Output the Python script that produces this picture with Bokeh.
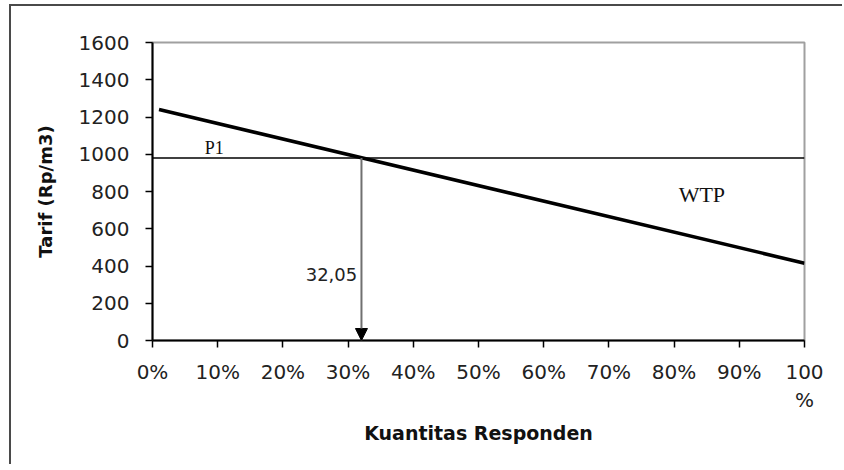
from bokeh.plotting import figure
from bokeh.models import Arrow, NormalHead, Label, FixedTicker, Range1d
from bokeh.embed import file_html
from bokeh.resources import INLINE

# ---- data ----
wtp_x = [1, 100]          # % of respondents
wtp_y = [1240, 415]       # tariff (Rp/m3)
p1_x = [0, 100]
p1_y = [980, 980]
q_at_p1 = 32.05
x_ticks = [0, 10, 20, 30, 40, 50, 60, 70, 80, 90, 100]
x_tick_labels = ["0%", "10%", "20%", "30%", "40%", "50%", "60%", "70%", "80%", "90%", "100\n%"]
y_ticks = [0, 200, 400, 600, 800, 1000, 1200, 1400, 1600]

p = figure(width=833, height=460, output_backend="svg", toolbar_location=None,
           x_range=Range1d(0, 100), y_range=Range1d(0, 1600),
           min_border_left=141, min_border_right=40, min_border_top=36, min_border_bottom=126)
p.styles = {"border-top": "2px solid #4a4a4a", "border-left": "2px solid #4a4a4a",
            "border-right": "0px none white", "border-bottom": "0px none white",
            "margin-left": "9px", "margin-top": "4px"}

p.grid.visible = False
p.outline_line_color = "#a0a0a0"
p.outline_line_width = 2
p.background_fill_color = "white"
p.border_fill_color = "white"

tick_font = "DejaVu Sans"
for ax in (p.xaxis[0], p.yaxis[0]):
    ax.axis_line_color = "black"
    ax.axis_line_width = 2
    ax.major_tick_line_color = "black"
    ax.major_tick_line_width = 1.5
    ax.major_tick_out = 7
    ax.major_tick_in = 0
    ax.minor_tick_line_color = None
    ax.major_label_text_font = tick_font
    ax.major_label_text_font_size = "20px"
    ax.major_label_text_color = "#222222"
    ax.axis_label_text_font = "DejaVu Sans"
    ax.axis_label_text_font_style = "bold"
    ax.axis_label_text_font_size = "18px"
    ax.axis_label_text_color = "#111111"

p.xaxis.ticker = FixedTicker(ticks=x_ticks)
p.xaxis.major_label_overrides = {t: l for t, l in zip(x_ticks, x_tick_labels)}
p.xaxis.major_label_standoff = 12
p.xaxis.axis_label = "Kuantitas Responden"
p.xaxis.axis_label_text_font_size = "19px"
p.xaxis.axis_label_standoff = 7

p.yaxis.ticker = FixedTicker(ticks=y_ticks)
p.yaxis.major_label_standoff = 16
p.yaxis.axis_label = "Tarif (Rp/m3)"
p.yaxis.axis_label_standoff = 20

# P1 horizontal line
p.line(p1_x, p1_y, line_color="black", line_width=1.5)
# WTP line
p.line(wtp_x, wtp_y, line_color="black", line_width=3.5)

# arrow down to quantity
p.add_layout(Arrow(x_start=q_at_p1, y_start=p1_y[0], x_end=q_at_p1, y_end=0,
                   line_color="#707070", line_width=2,
                   end=NormalHead(size=12, fill_color="black", line_color="black", line_width=1)))

serif = "Liberation Serif"
p.add_layout(Label(x=8, y=1036, text="P1", text_font=serif, text_font_size="18px",
                   text_color="#111111", text_baseline="alphabetic"))
p.add_layout(Label(x=80.7, y=784, text="WTP", text_font=serif, text_font_size="22px",
                   text_color="#111111", text_baseline="alphabetic"))
p.add_layout(Label(x=31.4, y=354, text="32,05", text_font=tick_font, text_font_size="18px",
                   text_color="#222222", text_align="right", text_baseline="alphabetic"))

open("out.html", "w").write(file_html(p, INLINE))
